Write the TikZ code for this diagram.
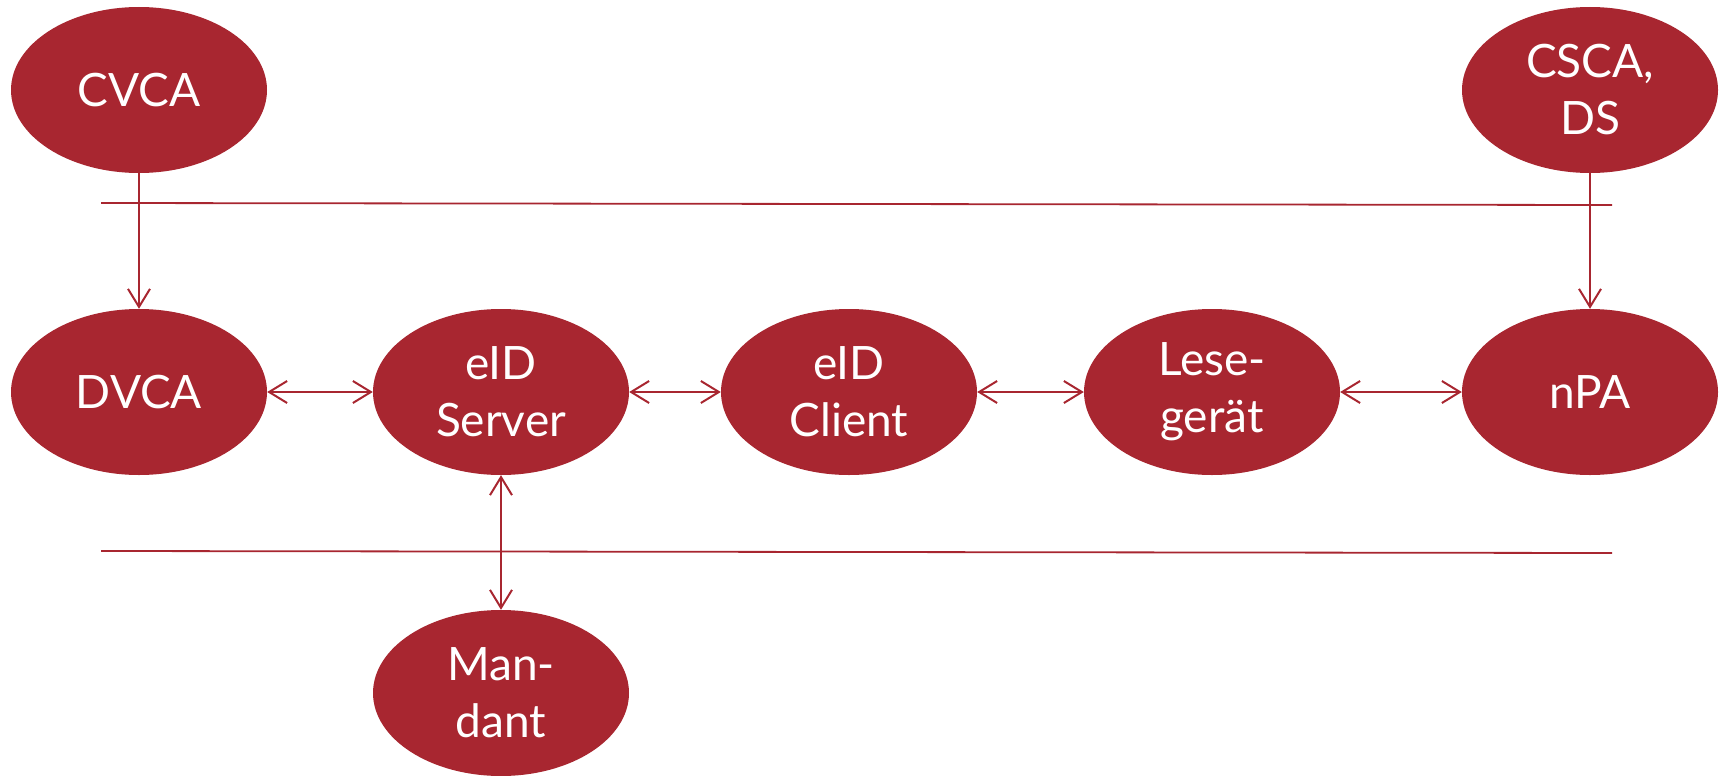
\documentclass[tikz,border=0pt]{standalone}
\usepackage{fontspec}
\setmainfont{Lato}
\usetikzlibrary{shapes.geometric,arrows.meta}
\definecolor{ered}{RGB}{168,38,48}
\begin{document}
\begin{tikzpicture}[x=1pt,y=-1pt,
  ent/.style={ellipse,fill=ered,draw=none,minimum width=256pt,minimum height=166pt,inner sep=0pt,
    text=white,align=center,font=\fontsize{46}{57}\selectfont},
  conn/.style={draw=ered,line width=2pt,arrows={-Straight Barb[length=18pt,width=22pt,line width=2pt]}},
  dconn/.style={draw=ered,line width=2pt,arrows={Straight Barb[length=18pt,width=22pt,line width=2pt]-Straight Barb[length=18pt,width=22pt,line width=2pt]}},
  sep/.style={draw=ered,line width=1.8pt}]
\useasboundingbox (0,0) rectangle (1721,776);
\node[ent] (cvca) at (139,90) {CVCA};
\node[ent] (csca) at (1590,90) {CSCA,\\DS};
\node[ent] (dvca) at (139,392) {DVCA};
\node[ent] (server) at (501,392) {eID\\Server};
\node[ent] (client) at (849,392) {eID\\Client};
\node[ent] (lese) at (1212,392) {Lese-\\gerät};
\node[ent] (npa) at (1590,392) {nPA};
\node[ent] (mand) at (501,693) {Man-\\dant};
\coordinate (t1) at (101,203);
\coordinate (t2) at (1612,205);
\coordinate (b1) at (101,551);
\coordinate (b2) at (1612,553);
\draw[sep] (t1) -- (t2);
\draw[sep] (b1) -- (b2);
\draw[conn] (cvca) -- (dvca);
\draw[conn] (csca) -- (npa);
\draw[dconn] (dvca) -- (server);
\draw[dconn] (server) -- (client);
\draw[dconn] (client) -- (lese);
\draw[dconn] (lese) -- (npa);
\draw[dconn] (server) -- (mand);
\end{tikzpicture}
\end{document}
